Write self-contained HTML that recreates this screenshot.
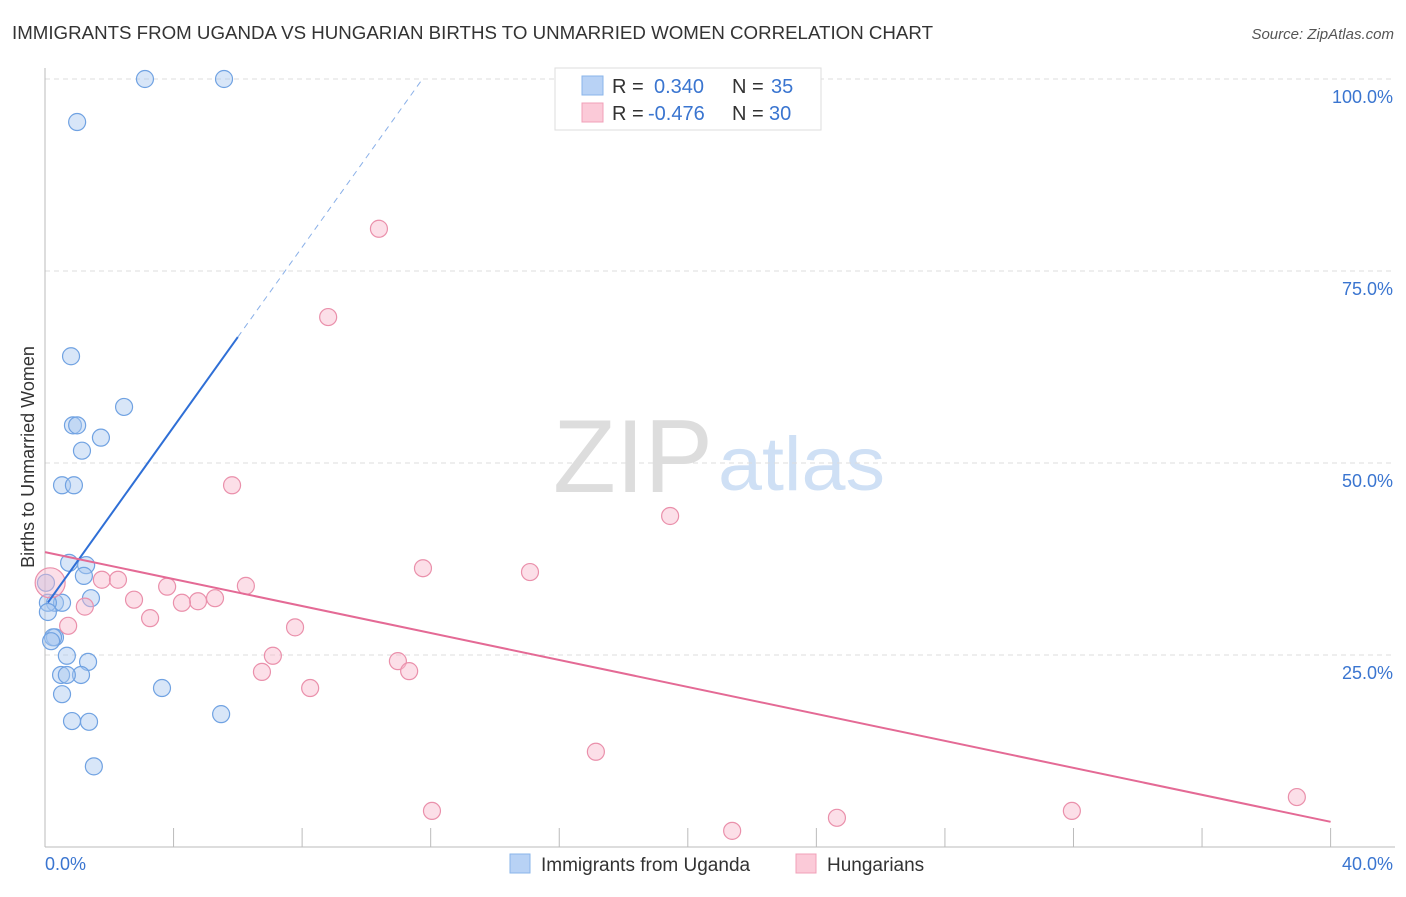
<!DOCTYPE html>
<html><head><meta charset="utf-8"><style>
body{margin:0;background:#fff;font-family:"Liberation Sans",sans-serif;}
svg text{font-family:"Liberation Sans",sans-serif;}
</style></head><body>
<svg id="chart" width="1406" height="892">
<text x="12" y="39" font-size="18" fill="#333" textLength="921" lengthAdjust="spacingAndGlyphs">IMMIGRANTS FROM UGANDA VS HUNGARIAN BIRTHS TO UNMARRIED WOMEN CORRELATION CHART</text>
<text x="1394" y="39" font-size="15" fill="#555" text-anchor="end" font-style="italic">Source: ZipAtlas.com</text>
<text transform="translate(34,457) rotate(-90)" font-size="18" fill="#333" text-anchor="middle">Births to Unmarried Women</text>
<g><text x="553" y="492" font-size="104" fill="#ddd" font-family="Liberation Serif,serif" textLength="160" lengthAdjust="spacingAndGlyphs">ZIP</text><text x="718" y="490" font-size="76" fill="#cfe0f5" textLength="167" lengthAdjust="spacingAndGlyphs">atlas</text></g>
<g id="grid"></g><g id="axes"></g><g id="marks"></g>
<g>
<rect x="555" y="68" width="266" height="62" fill="#fff" stroke="#ddd"/>
<rect x="582" y="76" width="21" height="19" fill="#b8d2f5" stroke="#8ab4ea"/>
<rect x="582" y="103" width="21" height="19" fill="#fbcad8" stroke="#f0a0b8"/>
<text x="612" y="93" font-size="20" fill="#333">R = </text><text x="654" y="93" font-size="20" fill="#3a75d0">0.340</text>
<text x="732" y="93" font-size="20" fill="#333">N = </text><text x="771" y="93" font-size="20" fill="#3a75d0">35</text>
<text x="612" y="120" font-size="20" fill="#333">R = </text><text x="648" y="120" font-size="20" fill="#3a75d0">-0.476</text>
<text x="732" y="120" font-size="20" fill="#333">N = </text><text x="769" y="120" font-size="20" fill="#3a75d0">30</text>
</g>
<g>
<rect x="510" y="854" width="20" height="19" fill="#b8d2f5" stroke="#8ab4ea"/>
<text x="541" y="871" font-size="19" fill="#333">Immigrants from Uganda</text>
<rect x="796" y="854" width="20" height="19" fill="#fbcad8" stroke="#f0a0b8"/>
<text x="827" y="871" font-size="19" fill="#333">Hungarians</text>
</g>
</svg>
<script>
const yTicks=[25,50,75,100];
const yTickLabels=["25.0%","50.0%","75.0%","100.0%"];
const xTickLabels=["0.0%","40.0%"];
const blueX=[3.11,5.57,1.0,0.81,2.46,0.87,1.0,1.74,1.15,0.53,0.9,0.75,1.28,1.21,1.43,0.31,0.53,0.09,0.09,0.31,0.25,0.19,0.68,1.34,0.5,1.12,0.68,0.53,3.64,0.84,1.37,5.48,1.52,0.03];
const blueY=[100,100,94.4,63.9,57.3,54.9,54.9,53.3,51.6,47.1,47.1,37.0,36.7,35.3,32.4,31.8,31.8,31.8,30.6,27.3,27.3,26.8,24.9,24.1,22.4,22.4,22.4,19.9,20.7,16.4,16.3,17.3,10.5,34.4];
const pinkX=[10.39,8.81,5.82,19.45,11.76,15.09,1.77,2.27,3.8,6.25,2.77,5.29,4.76,4.26,1.24,3.27,0.72,7.78,7.09,6.75,10.98,11.33,8.25,17.14,12.04,21.38,24.64,31.95,38.95,0.16];
const pinkY=[80.5,69.0,47.1,43.1,36.3,35.8,34.8,34.8,33.9,34.0,32.2,32.4,32.0,31.8,31.3,29.8,28.8,28.6,24.9,22.8,24.2,22.9,20.7,12.4,4.7,2.1,3.8,4.7,6.5,34.4];
const blueTrend=[31.3,5.85];
const pinkTrend=[38.4,-0.878];
const NS="http://www.w3.org/2000/svg";
const X=v=>45+v*32.14, Y=v=>847-v*7.68;
function mk(t,a,p){const e=document.createElementNS(NS,t);for(const k in a)e.setAttribute(k,a[k]);document.getElementById(p).appendChild(e);return e;}
yTicks.forEach((t,i)=>{
 const l=mk('line',{x1:45,x2:1395,y1:Y(t),y2:Y(t),stroke:'#ddd','stroke-dasharray':'5,4'},'grid');
 
 
 const tx=mk('text',{x:1393,y:Y(t)+24,'font-size':18,fill:'#3a75d0','text-anchor':'end'},'axes');
 tx.textContent=yTickLabels[i];
 
 
});
let a=mk('line',{x1:45,x2:45,y1:68,y2:847,stroke:'#bbb'},'axes');


a=mk('line',{x1:45,x2:1395,y1:847,y2:847,stroke:'#bbb'},'axes');


for(let i=1;i<=10;i++){const t=mk('line',{x1:X(i*4),x2:X(i*4),y1:828,y2:847,stroke:'#bbb'},'axes');
 
 }
[[0,'start',45],[40,'end',1393]].forEach((d,i)=>{const t=mk('text',{x:d[2],y:870,'font-size':18,fill:'#3a75d0','text-anchor':d[1]},'axes');t.textContent=xTickLabels[i];
 
 });
function pts(xs,ys,fill,stroke,name,big){xs.forEach((x,i)=>{const r=(big&&i===xs.length-1)?15:8.5;
 const c=mk('circle',{cx:X(x),cy:Y(ys[i]),r:r,fill:fill,'fill-opacity':0.45,stroke:stroke,'stroke-width':1.2},'marks');
 
 });}
pts(blueX,blueY,'#a8c8f0','#70a2e2','uganda-point',false);
pts(pinkX,pinkY,'#f8b8cb','#ea90ab','hungarian-point',true);
let ln=mk('line',{x1:X(0.09),y1:Y(blueTrend[0]+blueTrend[1]*0.09),x2:X(6),y2:Y(blueTrend[0]+blueTrend[1]*6),stroke:'#2f6fd6','stroke-width':2},'marks');


const xe=(100-blueTrend[0])/blueTrend[1];
ln=mk('line',{x1:X(6),y1:Y(blueTrend[0]+blueTrend[1]*6),x2:X(xe),y2:Y(100),stroke:'#8ab0e8','stroke-width':1,'stroke-dasharray':'6,5'},'marks');


ln=mk('line',{x1:X(0),y1:Y(pinkTrend[0]),x2:X(40),y2:Y(pinkTrend[0]+pinkTrend[1]*40),stroke:'#e46a95','stroke-width':2},'marks');


</script>
</body></html>
